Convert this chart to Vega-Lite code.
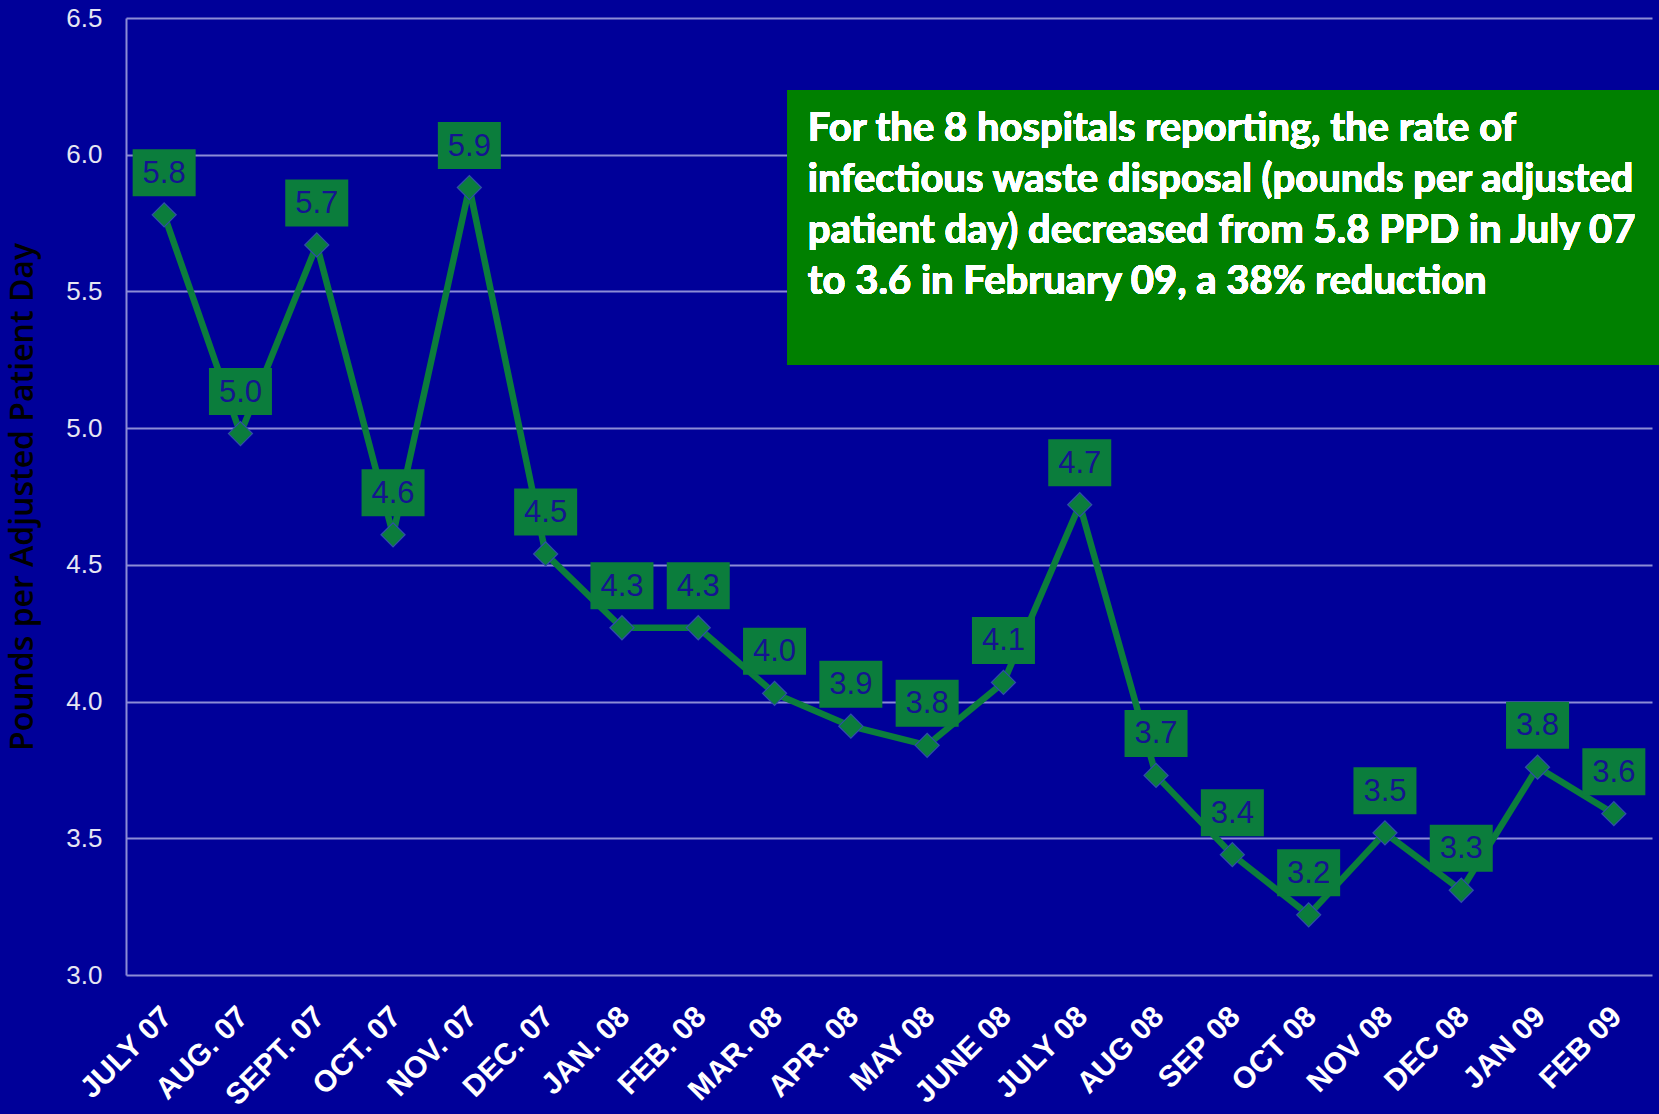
{
  "$schema": "https://vega.github.io/schema/vega-lite/v6.json",
  "autosize": "none",
  "width": 1526,
  "height": 957,
  "padding": {"left": 126, "top": 18, "right": 7, "bottom": 139},
  "background": "#000099",
  "config": {"view": {"stroke": null}},
  "data": {
    "values": [
      {"month": "JULY 07", "value": 5.78},
      {"month": "AUG. 07", "value": 4.98},
      {"month": "SEPT. 07", "value": 5.67},
      {"month": "OCT. 07", "value": 4.61},
      {"month": "NOV. 07", "value": 5.88},
      {"month": "DEC. 07", "value": 4.54},
      {"month": "JAN. 08", "value": 4.27},
      {"month": "FEB. 08", "value": 4.27},
      {"month": "MAR. 08", "value": 4.03},
      {"month": "APR. 08", "value": 3.91},
      {"month": "MAY 08", "value": 3.84},
      {"month": "JUNE 08", "value": 4.07},
      {"month": "JULY 08", "value": 4.72},
      {"month": "AUG 08", "value": 3.73},
      {"month": "SEP 08", "value": 3.44},
      {"month": "OCT 08", "value": 3.22},
      {"month": "NOV 08", "value": 3.52},
      {"month": "DEC 08", "value": 3.31},
      {"month": "JAN 09", "value": 3.76},
      {"month": "FEB 09", "value": 3.59}
    ]
  },
  "encoding": {
    "x": {
      "field": "month",
      "type": "ordinal",
      "sort": null,
      "scale": {"type": "point", "padding": 0.5},
      "axis": {
        "title": null,
        "labelAngle": -45,
        "labelAlign": "right",
        "labelBaseline": "top",
        "labelPadding": 26,
        "labelOffset": -8,
        "labelColor": "#ffffff",
        "labelFont": "Liberation Sans",
        "labelFontWeight": "bold",
        "labelFontSize": 30,
        "ticks": false,
        "domain": false,
        "grid": false
      }
    },
    "y": {
      "field": "value",
      "type": "quantitative",
      "scale": {"domain": [3, 6.5], "nice": false, "zero": false},
      "axis": {
        "values": [3, 3.5, 4, 4.5, 5, 5.5, 6, 6.5],
        "format": ".1f",
        "title": "Pounds per Adjusted Patient Day",
        "titleColor": "#000000",
        "titleFont": "Open Sans",
        "titleFontWeight": 600,
        "titleFontSize": 32,
        "titlePadding": 26,
        "labelColor": "#e6e6f2",
        "labelFont": "Liberation Sans",
        "labelFontSize": 26,
        "labelPadding": 24,
        "ticks": false,
        "domain": true,
        "domainColor": "#8c8cd6",
        "domainWidth": 2,
        "grid": true,
        "gridColor": "#8c8cd6",
        "gridWidth": 2,
        "gridOpacity": 1
      }
    }
  },
  "layer": [
    {
      "mark": {"type": "line", "color": "#0b7d3c", "strokeWidth": 6.5}
    },
    {
      "mark": {"type": "point", "shape": "diamond", "filled": true, "size": 580, "fill": "#0b7d3c", "stroke": "#2f4fa8", "strokeWidth": 1.2, "opacity": 1}
    },
    {
      "mark": {"type": "point", "shape": "M-1,-0.746L1,-0.746L1,0.746L-1,0.746Z", "filled": true, "size": 3969, "fill": "#0b7d3c", "opacity": 1, "yOffset": -42}
    },
    {
      "mark": {"type": "text", "font": "Liberation Sans", "fontSize": 31, "color": "#141490", "baseline": "middle", "align": "center", "yOffset": -41},
      "encoding": {"text": {"field": "value", "type": "quantitative", "format": ".1f"}}
    },
    {
      "mark": {"type": "rect", "color": "#008000", "xOffset": -63, "x2Offset": 7},
      "encoding": {
        "x": {"datum": "APR. 08"},
        "x2": {"value": "width"},
        "y": {"datum": 6.237},
        "y2": {"datum": 5.231}
      }
    },
    {
      "mark": {"type": "text", "font": "Lato", "fontWeight": "bold", "fontSize": 40, "color": "#ffffff", "align": "left", "baseline": "top", "lineHeight": 51, "xOffset": -43},
      "encoding": {
        "x": {"datum": "APR. 08"},
        "y": {"datum": 6.167},
        "text": {"value": ["For the 8 hospitals reporting, the rate of", "infectious waste disposal (pounds per adjusted", "patient day) decreased from 5.8 PPD in July 07", "to 3.6 in February 09, a 38% reduction"]}
      }
    }
  ]
}
